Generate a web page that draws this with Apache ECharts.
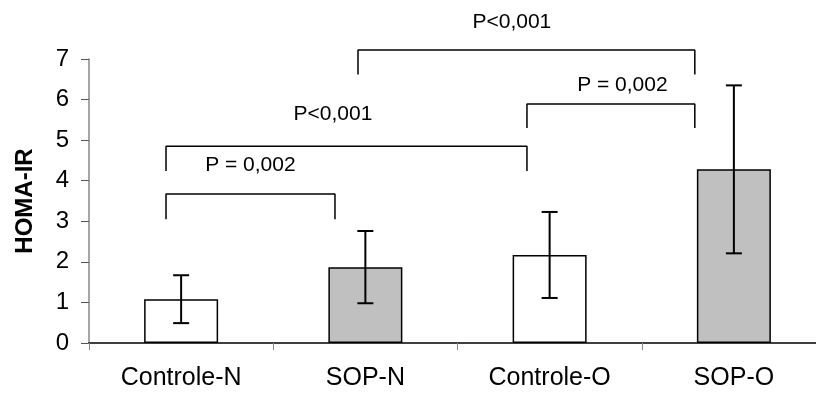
<!DOCTYPE html>
<html>
<head>
<meta charset="utf-8">
<script src="https://cdn.jsdelivr.net/npm/echarts@6/dist/echarts.min.js"></script>
<style>html,body{margin:0;padding:0;background:#fff}#c{width:816px;height:394px}</style>
</head>
<body>
<div id="c"></div>
<script>
// ---- data ----
var categories = ['Controle-N', 'SOP-N', 'Controle-O', 'SOP-O'];
var means = [1.08, 1.87, 2.17, 4.28];
var sds = [0.59, 0.89, 1.06, 2.07];
var yTicks = [0, 1, 2, 3, 4, 5, 6, 7];
// brackets: [xLeft, xRight, yTop, yLegBottom] in position units along the category band (0..4)
var bracket1 = [0.418, 1.335, 3.67, 3.05];
var bracket2 = [0.418, 2.377, 4.85, 4.24];
var bracket3 = [2.377, 3.288, 5.89, 5.30];
var bracket4 = [1.46, 3.288, 7.22, 6.62];
var pTexts = ['P = 0,002', 'P<0,001', 'P = 0,002', 'P<0,001'];
var pX = [0.876, 1.324, 2.895, 2.295];
var pY = [4.39, 5.64, 6.36, 7.90];

var FONT = 'Liberation Sans, Arial, sans-serif';
var barFill = ['#ffffff', '#c0c0c0'];

function bracketSeries(b) {
  return {
    type: 'line', xAxisIndex: 1, yAxisIndex: 0, clip: false, silent: true,
    symbol: 'none', animation: false, z: 5,
    lineStyle: { color: '#000', width: 1.5 },
    data: [[b[0], b[3]], [b[0], b[2]], [b[1], b[2]], [b[1], b[3]]]
  };
}

var chart = echarts.init(document.getElementById('c'));
chart.setOption({
  animation: false,
  backgroundColor: '#fff',
  grid: { left: 89, top: 59, width: 737, height: 284, containLabel: false, outerBoundsMode: 'none' },
  xAxis: [{
    type: 'category', data: categories,
    axisLine: { lineStyle: { color: '#000', width: 1.5 } },
    axisTick: { show: true, length: 7, lineStyle: { color: '#888' } },
    axisLabel: { fontFamily: FONT, fontSize: 25, color: '#000', margin: 23 },
    splitLine: { show: false }
  }, {
    type: 'value', min: 0, max: 4, show: false
  }],
  yAxis: {
    type: 'value', min: yTicks[0], max: yTicks[yTicks.length - 1], interval: 1,
    name: 'HOMA-IR', nameLocation: 'middle', nameRotate: 90, nameGap: 52,
    nameTextStyle: { fontFamily: FONT, fontSize: 24, fontWeight: 'bold', color: '#000' },
    axisLine: { show: true, lineStyle: { color: '#888', width: 1.5 } },
    axisTick: { show: true, length: 8, lineStyle: { color: '#555' } },
    axisLabel: { fontFamily: FONT, fontSize: 24, color: '#000', margin: 20 },
    splitLine: { show: false }
  },
  series: [
    {
      type: 'bar', barWidth: 74, z: 2,
      data: means.map(function (v, i) {
        return { value: v, itemStyle: { color: barFill[i % 2], borderColor: '#000', borderWidth: 1.5 } };
      })
    },
    {
      type: 'custom', silent: true, z: 10,
      data: means.map(function (m, i) { return [i, m - sds[i], m + sds[i]]; }),
      renderItem: function (params, api) {
        var lo = api.coord([api.value(0), api.value(1)]);
        var hi = api.coord([api.value(0), api.value(2)]);
        var h = 8;
        var st = { stroke: '#000', lineWidth: 2 };
        return {
          type: 'group', children: [
            { type: 'line', shape: { x1: hi[0], y1: hi[1], x2: lo[0], y2: lo[1] }, style: st },
            { type: 'line', shape: { x1: hi[0] - h, y1: hi[1], x2: hi[0] + h, y2: hi[1] }, style: st },
            { type: 'line', shape: { x1: lo[0] - h, y1: lo[1], x2: lo[0] + h, y2: lo[1] }, style: st }
          ]
        };
      }
    },
    bracketSeries(bracket1),
    bracketSeries(bracket2),
    bracketSeries(bracket3),
    bracketSeries(bracket4),
    {
      type: 'scatter', xAxisIndex: 1, yAxisIndex: 0, clip: false, silent: true, z: 10,
      symbolSize: 0,
      itemStyle: { opacity: 1 },
      data: pTexts.map(function (t, i) { return { value: [pX[i], pY[i]], name: t }; }),
      label: {
        show: true, position: 'inside', formatter: '{b}',
        fontFamily: FONT, fontSize: 21, color: '#000', opacity: 1
      }
    }
  ]
});
</script>
</body>
</html>
